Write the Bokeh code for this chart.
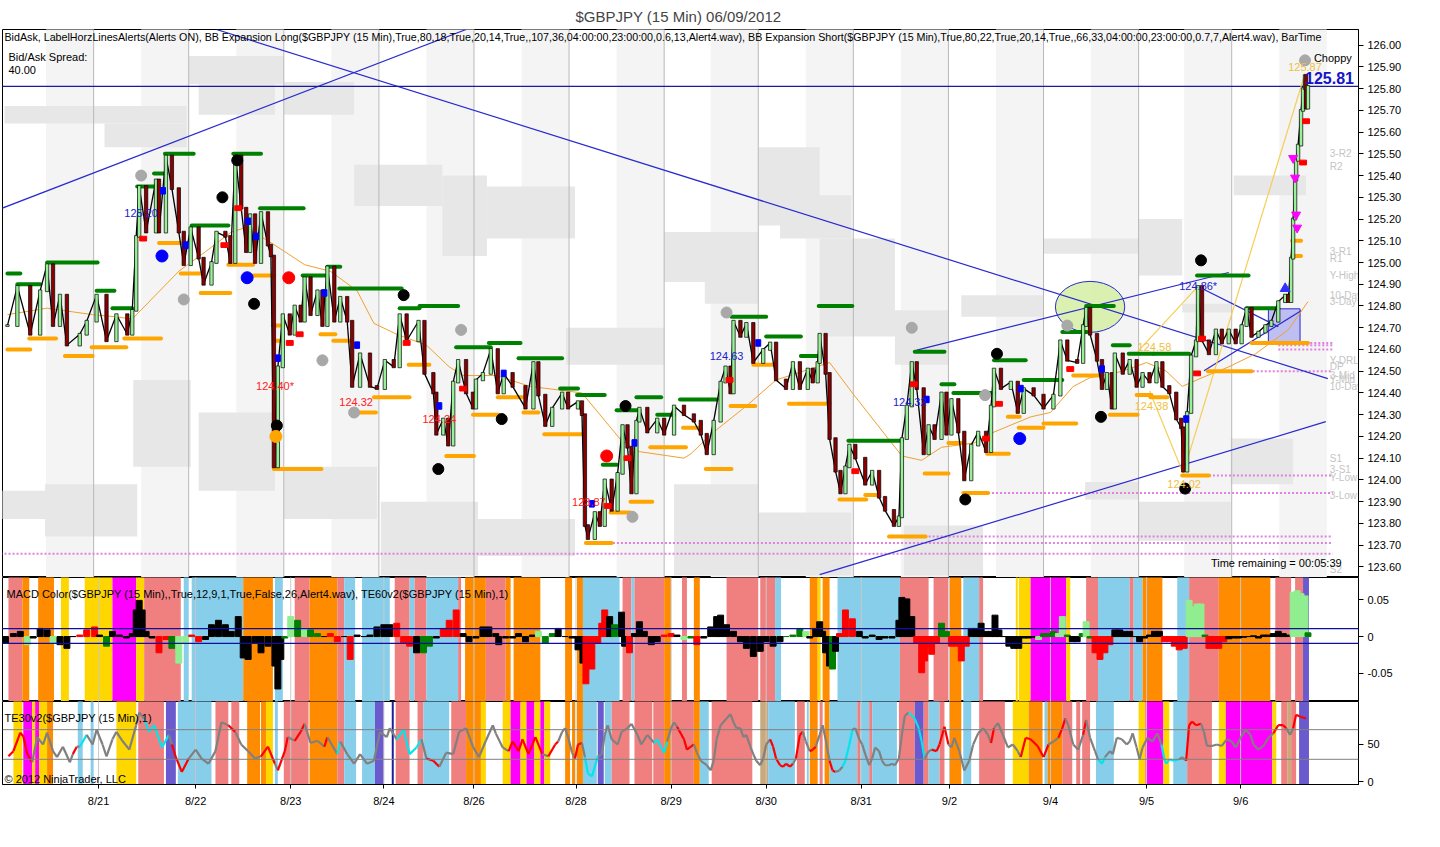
from bokeh.plotting import figure
from bokeh.models import Range1d, FixedTicker, PrintfTickFormatter, Label, Span
from bokeh.layouts import column
from bokeh.core.properties import value
from bokeh.embed import file_html
from bokeh.resources import INLINE

FONT = "Liberation Sans"

# ---------------- data: x axis (bar index of 15-min bars) ----------------
date_ticks = [99, 197, 293, 387, 478, 581, 677, 773, 869, 958, 1060, 1157, 1252]
date_labels = ["8/21", "8/22", "8/23", "8/24", "8/26", "8/28", "8/29", "8/30", "8/31", "9/2", "9/4", "9/5", "9/6"]
grid_x = [94, 190, 286, 382, 478, 574, 670, 765, 861, 957, 1053, 1149, 1243]
stripe_x0 = [46, 142, 238, 334, 430, 526, 622, 717, 813, 909, 1005, 1101, 1195, 1291]
stripe_x1 = [94, 190, 286, 382, 478, 574, 670, 765, 861, 957, 1053, 1149, 1243, 1339]
price_ticks = [123.6, 123.7, 123.8, 123.9, 124.0, 124.1, 124.2, 124.3, 124.4, 124.5, 124.6, 124.7,
               124.8, 124.9, 125.0, 125.1, 125.2, 125.3, 125.4, 125.5, 125.6, 125.7, 125.8, 125.9, 126.0]

# ---------------- data: price path ----------------
bar_x = [7, 17, 30, 40, 47, 53, 60, 67, 80, 87,
         97, 107, 117, 128, 133, 137, 140, 147, 157, 160,
         167, 173, 180, 185, 192, 200, 205, 213, 218, 227,
         232, 237, 243, 248, 252, 257, 263, 270, 273, 276,
         280, 285, 292, 297, 303, 307, 313, 320, 325, 330,
         337, 343, 350, 355, 363, 373, 380, 388, 397, 403,
         410, 422, 428, 437, 440, 447, 452, 457, 462, 470,
         477, 480, 487, 495, 502, 508, 517, 530, 538, 543,
         550, 557, 567, 573, 583, 587, 590, 593, 600, 605,
         610, 617, 623, 628, 633, 637, 642, 645, 653, 663,
         670, 680, 690, 700, 707, 713, 720, 727, 732, 737,
         740, 747, 753, 760, 770, 777, 783, 793, 800, 807,
         815, 820, 825, 827, 833, 837, 843, 848, 853, 857,
         863, 873, 880, 887, 893, 902, 907, 910, 915, 920,
         925, 932, 937, 943, 950, 955, 960, 967, 973, 980,
         987, 995, 1000, 1003, 1010, 1020, 1027, 1033, 1043, 1053,
         1063, 1070, 1077, 1087, 1093, 1096, 1100, 1107, 1112, 1117,
         1122, 1125, 1133, 1140, 1147, 1153, 1160, 1167, 1173, 1180,
         1187, 1192, 1194, 1198, 1202, 1207, 1209, 1213, 1220, 1227,
         1233, 1240, 1247, 1253, 1258, 1263, 1270, 1277, 1283, 1290,
         1297, 1300, 1303, 1305, 1307, 1308, 1310, 1313, 1315, 1317,
         1318, 1320]
bar_close = [124.71, 124.89, 124.67, 124.87, 124.99, 124.71, 124.85, 124.62, 124.67, 124.73,
             124.85, 124.64, 124.76, 124.67, 124.78, 125.12, 125.35, 125.14, 125.38, 125.14,
             125.49, 125.34, 125.14, 124.99, 125.16, 125.02, 124.90, 125.00, 125.14, 125.12,
             125.00, 125.49, 125.25, 125.05, 125.22, 125.00, 125.23, 125.08, 125.03, 124.06,
             124.52, 124.76, 124.67, 124.80, 124.73, 124.93, 124.76, 124.87, 124.71, 124.98,
             124.73, 124.84, 124.73, 124.43, 124.58, 124.43, 124.42, 124.55, 124.52, 124.76,
             124.64, 124.73, 124.49, 124.40, 124.21, 124.28, 124.16, 124.45, 124.55, 124.40,
             124.33, 124.46, 124.49, 124.60, 124.40, 124.49, 124.43, 124.33, 124.54, 124.39,
             124.25, 124.33, 124.40, 124.33, 124.36, 124.30, 123.79, 123.73, 123.85, 123.79,
             124.00, 123.86, 124.03, 124.25, 124.15, 123.94, 124.27, 124.33, 124.22, 124.28,
             124.21, 124.34, 124.30, 124.27, 124.21, 124.12, 124.27, 124.45, 124.52, 124.40,
             124.73, 124.66, 124.72, 124.54, 124.60, 124.63, 124.46, 124.42, 124.54, 124.42,
             124.51, 124.45, 124.54, 124.67, 124.49, 124.19, 124.04, 123.94, 124.06, 124.16,
             124.10, 123.98, 124.04, 123.92, 123.86, 123.79, 123.83, 124.19, 124.34, 124.54,
             124.42, 124.12, 124.25, 124.19, 124.40, 124.21, 124.37, 124.22, 124.00, 124.16,
             124.22, 124.13, 124.34, 124.51, 124.42, 124.45, 124.31, 124.42, 124.39, 124.33,
             124.39, 124.64, 124.55, 124.54, 124.71, 124.79, 124.67, 124.55, 124.42, 124.49,
             124.33, 124.58, 124.49, 124.55, 124.43, 124.49, 124.45, 124.54, 124.43, 124.40,
             124.28, 124.24, 124.04, 124.31, 124.57, 124.64, 124.89, 124.64, 124.58, 124.69,
             124.63, 124.69, 124.63, 124.71, 124.79, 124.66, 124.68, 124.71, 124.73, 124.82,
             124.85, 124.82, 125.02, 125.20, 125.38, 125.47, 125.54, 125.70, 125.80, 125.86,
             125.71, 125.81]

# moving average
ma_x = [7, 47, 93, 117, 133, 180, 207, 233, 247, 270, 287, 307, 333, 360, 377, 400, 430, 453, 467, 500,
        535, 587, 627, 645, 690, 697, 720, 753, 783, 797, 837, 860, 910, 930, 950, 983, 1003, 1040, 1060, 1083,
        1100, 1133, 1157, 1177, 1193, 1213, 1240, 1267, 1300, 1320]
ma_p = [124.76, 124.79, 124.76, 124.75, 124.74, 124.96, 125.05, 125.14, 125.16, 125.10, 125.05, 124.99, 124.96,
        124.87, 124.72, 124.67, 124.62, 124.52, 124.48, 124.48, 124.43, 124.40, 124.18, 124.13, 124.10, 124.12,
        124.22, 124.34, 124.46, 124.48, 124.54, 124.40, 124.11, 124.09, 124.15, 124.17, 124.22, 124.29, 124.31,
        124.43, 124.47, 124.50, 124.54, 124.50, 124.43, 124.47, 124.52, 124.58, 124.69, 124.82]

# resistance (green) and support (orange) markers
res_x0 = [7, 17, 47, 97, 113, 138, 155, 166, 193, 235, 262, 305, 330, 342, 403, 423, 460, 493, 523, 565,
          582, 608, 622, 642, 663, 686, 738, 773, 808, 826, 856, 923, 950, 962, 1003, 1033, 1072, 1096, 1123, 1139,
          1164, 1208, 1258]
res_x1 = [20, 40, 98, 115, 133, 157, 167, 195, 230, 263, 306, 328, 343, 405, 423, 462, 495, 525, 567, 583,
          610, 622, 645, 667, 680, 723, 773, 808, 826, 860, 910, 953, 963, 1003, 1035, 1072, 1097, 1124, 1140, 1164,
          1200, 1260, 1290]
res_p = [124.95, 124.90, 125.00, 124.87, 124.79, 125.35, 125.41, 125.50, 125.17, 125.50, 125.25, 124.94, 124.98,
         124.88, 124.79, 124.80, 124.61, 124.63, 124.56, 124.42, 124.39, 124.07, 124.32, 124.38, 124.30, 124.37,
         124.75, 124.66, 124.57, 124.80, 124.18, 124.59, 124.44, 124.40, 124.55, 124.46, 124.68, 124.80, 124.62,
         124.58, 124.58, 124.94, 124.79]
sup_x0 = [7, 29, 65, 92, 125, 160, 182, 202, 230, 255, 275, 276, 276, 323, 336, 362, 377, 412, 450, 477,
          502, 528, 549, 591, 616, 636, 656, 689, 712, 737, 760, 796, 847, 873, 897, 933, 957, 972, 996, 1017,
          1028, 1053, 1083, 1120, 1147, 1161, 1193, 1219, 1263, 1304, 1304]
sup_x1 = [30, 56, 93, 127, 162, 182, 203, 232, 255, 276, 285, 284, 324, 338, 353, 379, 413, 433, 478, 503,
          530, 543, 589, 617, 636, 658, 692, 706, 738, 762, 781, 837, 874, 887, 934, 957, 972, 997, 1018, 1029,
          1053, 1086, 1108, 1148, 1162, 1178, 1220, 1263, 1320, 1313, 1313]
sup_p = [124.60, 124.65, 124.57, 124.61, 124.65, 125.09, 124.95, 124.86, 124.99, 124.94, 124.71, 124.64, 124.05,
         124.67, 124.64, 124.31, 124.38, 124.53, 124.11, 124.30, 124.38, 124.31, 124.21, 123.71, 123.85, 123.90,
         124.15, 124.24, 124.05, 124.34, 124.53, 124.35, 123.91, 123.93, 123.74, 124.03, 124.17, 123.94, 124.12,
         124.29, 124.24, 124.26, 124.48, 124.30, 124.39, 124.38, 124.02, 124.50, 124.63, 125.10, 125.03]

# signal dots
black_x = [224, 239, 256, 279, 407, 442, 506, 631, 974, 1006, 1111, 1196, 1212]
black_p = [125.30, 125.47, 124.81, 124.25, 124.85, 124.05, 124.28, 124.34, 123.91, 124.58, 124.29, 123.96, 125.01]
blue_x = [163, 249, 1029]
blue_p = [125.03, 124.93, 124.19]
red_x = [291, 612]
red_p = [124.93, 124.11]
gray_x = [142, 185, 325, 357, 465, 638, 733, 920, 994, 1077, 1317]
gray_p = [125.40, 124.83, 124.55, 124.31, 124.69, 123.83, 124.77, 124.70, 124.39, 124.71, 125.93]
gold_dot_x = [278]
gold_dot_p = [124.20]

# small bar markers
rmark_x = [144, 226, 240, 292, 302, 410, 467, 613, 633, 736, 863, 922, 995, 1008, 1080, 1208, 1213, 1318, 1315]
rmark_p = [125.11, 125.08, 125.25, 124.63, 124.67, 124.63, 124.42, 123.88, 124.10, 124.46, 124.04, 124.44,
           124.19, 124.35, 124.51, 124.49, 124.65, 125.65, 125.46]
bmark_x = [164, 187, 250, 258, 280, 327, 360, 443, 508, 597, 640, 765, 935, 1030, 1112, 1197]
bmark_p = [125.33, 125.08, 125.19, 125.12, 124.56, 124.86, 124.62, 124.34, 124.49, 123.89, 124.17, 124.63,
           124.37, 124.42, 124.51, 124.28]
arrow_x = [1305, 1307, 1308, 1309, 1297]
arrow_p = [125.48, 125.39, 125.22, 125.16, 124.88]

# gray cloud blocks
cloud_x0 = [4, 105, 190, 200, 286, 357, 446, 491, 571, 670, 0, 45, 134, 200, 286, 384, 482,
            680, 711, 765, 787, 827, 903, 970, 1053, 1149, 1193, 1245, 680, 765, 912, 1095, 1149, 1242]
cloud_x1 = [188, 188, 286, 277, 357, 446, 491, 580, 670, 700, 89, 138, 192, 277, 380, 482, 580,
            765, 765, 827, 859, 903, 957, 1053, 1149, 1193, 1242, 1318, 765, 859, 992, 1149, 1242, 1305]
cloud_top = [125.72, 125.64, 125.95, 125.82, 125.83, 125.45, 125.40, 125.35, 124.70, 125.14, 123.95, 123.98,
             124.46, 124.31, 124.06, 123.90, 123.82, 125.14, 124.91, 125.53, 125.31, 125.11, 124.78, 124.85,
             125.11, 125.20, 124.81, 125.40, 123.98, 123.85, 123.79, 123.99, 123.90, 124.19]
cloud_bot = [125.64, 125.53, 125.82, 125.68, 125.68, 125.26, 125.03, 125.11, 124.53, 124.91, 123.82, 123.74,
             124.06, 123.95, 123.82, 123.56, 123.65, 124.91, 124.81, 125.17, 125.11, 124.66, 124.53, 124.75,
             125.04, 124.94, 124.77, 125.31, 123.56, 123.56, 123.56, 123.91, 123.72, 123.98]

# trend lines
trend_x0 = [0, 218, 925, 827, 1209, 1215]
trend_x1 = [470, 1340, 1240, 1338, 1290, 1313]
trend_p0 = [125.247, 126.072, 124.597, 123.564, 124.890, 124.502]
trend_p1 = [126.072, 124.466, 124.954, 124.268, 124.705, 124.778]
last_price = 125.81
ask_price = 125.65
zig_x0 = [1148, 1160, 1194]
zig_x1 = [1209, 1194, 1317]
zig_p0 = [124.59, 124.41, 124.03]
zig_p1 = [124.89, 124.03, 125.87]

# dotted pivot lines
dot_x0 = [0, 590, 933, 997, 1220, 1240, 1290, 1290, 1290]
dot_p = [123.66, 123.71, 123.74, 123.94, 124.02, 124.50, 124.63, 124.62, 124.60]
dot_x1 = 1345

# price labels
plab_text = ["125.20", "124.40*", "124.32", "124.24", "123.87", "124.63", "124.32", "124.86*",
             "124.58", "124.38", "124.02", "125.87"]
plab_x = [125, 258, 342, 426, 577, 716, 901, 1190, 1148, 1145, 1178, 1300]
plab_p = [125.23, 124.43, 124.36, 124.28, 123.90, 124.57, 124.36, 124.89, 124.61, 124.34, 123.98, 125.90]
plab_c = ["b", "r", "r", "r", "r", "b", "b", "b", "y", "y", "y", "y"]
pivot_text = ["3-R2", "R2", "3-R1", "R1", "Y-High", "10-Day", "3-Day", "Y-DRL", "DP", "3-Mid", "Y-Mid",
              "10-Day", "S1", "3-S1", "Y-Low", "3-Low", "S2"]
pivot_p = [125.50, 125.44, 125.05, 125.02, 124.94, 124.85, 124.82, 124.55, 124.52, 124.48, 124.46, 124.43,
           124.10, 124.05, 124.01, 123.93, 123.59]

# ---------------- data: MACD panel ----------------
macd_x = [5, 13, 20, 27, 33, 40, 47, 53, 60, 67, 73, 80, 87, 95, 100, 107, 113, 120, 127, 133,
          137, 140, 143, 147, 153, 160, 167, 173, 180, 187, 193, 200, 207, 213, 220, 227, 233, 240, 245, 250,
          257, 263, 270, 277, 280, 283, 287, 293, 300, 307, 313, 320, 327, 333, 340, 347, 353, 360, 367, 373,
          380, 387, 393, 400, 407, 413, 420, 427, 433, 440, 447, 453, 460, 467, 473, 480, 487, 493, 500,
          503, 510, 517, 523, 530, 537, 543, 550, 557, 563, 570, 577, 583, 588, 591, 597, 603, 607, 610, 615,
          620, 627, 630, 635, 640, 645, 650, 657, 663, 670, 677, 683, 690, 697, 703, 710, 717, 723, 727, 733,
          740, 747, 753, 760, 767, 773, 780, 787, 793, 800, 807, 813, 817, 823, 827, 830, 833, 837, 840, 843,
          847, 853, 860, 867, 873, 880, 887, 893, 900, 907, 910, 915, 920, 925, 930, 933, 937,
          940, 945, 950, 955, 960, 965, 970, 975, 980, 985, 990, 995, 1000, 1004, 1008, 1013, 1018, 1023, 1028, 1033,
          1038, 1043, 1048, 1053, 1058, 1063, 1068, 1072, 1077, 1082, 1087, 1092, 1096, 1100, 1105, 1110, 1115, 1120,
          1125, 1130, 1135, 1140, 1145, 1150, 1155, 1160, 1165, 1170, 1175, 1180, 1185, 1190, 1195, 1200, 1204, 1208,
          1212, 1216, 1220, 1225, 1230, 1235, 1240, 1245, 1250, 1255, 1260, 1265, 1270, 1275, 1280, 1285, 1290,
          1295, 1300, 1305, 1309, 1313, 1317, 1320]
macd_v = [-0.009, 0.004, 0.007, -0.011, -0.002, 0.011, 0.009, -0.009, -0.011, -0.016,
          0.0, 0.002, 0.009, 0.013, 0.002, -0.013, 0.007, 0.002, -0.002, 0.004,
          0.036, 0.049, 0.036, 0.007, -0.002, -0.022, -0.004, -0.016, -0.036, -0.009,
          0.002, -0.007, -0.004, 0.016, 0.022, 0.016, 0.007, 0.027, -0.029, -0.031,
          -0.009, -0.022, -0.013, -0.040, -0.071, -0.031, -0.002, 0.027, 0.022, 0.011,
          0.009, 0.004, 0.0, 0.004, -0.007, 0.0, -0.031, 0.002, 0.0, 0.002,
          0.013, 0.016, 0.016, 0.018, -0.009, -0.013, -0.022, -0.022, -0.013, -0.002,
          0.011, 0.022, 0.036, 0.004, -0.007, -0.002, 0.013, 0.013, 0.004,
          -0.011, -0.002, -0.002, 0.004, -0.007, 0.002, 0.007, -0.009, 0.004, 0.011,
          0.0, -0.002, -0.018, -0.036, -0.064, -0.044, -0.009, 0.018, 0.036, 0.027,
          0.016, 0.033, -0.013, -0.022, 0.004, 0.020, 0.007, -0.011, -0.007, 0.002,
          0.004, 0.002, -0.004, -0.002, -0.011, -0.002, 0.013, 0.027, 0.029, 0.016,
          0.007, -0.007, -0.016, -0.027, -0.020, -0.007, -0.013, -0.007, 0.0, 0.002,
          0.011, 0.007, -0.002, 0.011, 0.020, 0.007, -0.022, -0.040, -0.044, -0.020,
          0.004, 0.036, 0.024, 0.007, -0.002, 0.002, -0.004, -0.002, -0.002, 0.022,
          0.053, 0.051, 0.027, -0.009, -0.049, -0.033, -0.013,
          -0.024, -0.009, 0.018, 0.007, -0.013, -0.013, -0.033, -0.013, 0.011, 0.011,
          0.018, 0.007, 0.007, 0.029, 0.009, 0.0, -0.013, -0.016, -0.016, -0.002,
          -0.002, -0.001, -0.004, 0.004, 0.004, 0.007, 0.004, 0.027, 0.002, -0.007,
          -0.007, 0.004, 0.020, -0.002, -0.022, -0.031, -0.022, -0.011, 0.009, 0.009,
          0.007, 0.007, 0.0, -0.007, -0.002, 0.002, 0.007, 0.007, -0.007, -0.007,
          -0.013, -0.018, -0.016, 0.049, 0.040, 0.044, 0.044, 0.002, -0.016, -0.016,
          -0.016, -0.007, -0.003, -0.002, -0.002, -0.001, 0.0, 0.001, -0.002, 0.002,
          0.002, 0.004, 0.007, 0.004, 0.002, 0.060, 0.062, 0.058, 0.055, 0.005]
macd_c = ("kkklkkklkk" "krrrkgkkkk" "kkkkkrrgll" "rrkkkkkkkk" "kkkkkkglgl" "ggkrrkrkkk" "kkkrrrkggk" "rrrkkkkkk"
          "kkkkkklggk" "kkkkrrrrrk" "gkkrkkkkkr" "rklgrkkkkk" "kkkkkkkkgg" "glkkkkkkgk" "rrrkkkkkkk" "kkkrrrr"
          "rrggrrrrkk" "kkkkkkkkkk" "kklgggllgk" "kglgrrrrkk" "kkkkkkkkrr" "rrrllllgrr" "rrkkkkkkkk" "kkkkkllllg")
macd_ticks = [-0.05, 0, 0.05]
macd_band_x0 = [8, 22, 38, 61, 85, 113, 137, 145, 185, 193, 245, 277, 297, 312, 340, 347, 365, 398, 413, 418,
                430, 462, 469, 490, 510, 518, 570, 582, 588, 628, 637, 640, 670, 688, 700, 733, 767, 782, 817, 825,
                830, 845, 908, 942, 958, 972, 988, 1025, 1028, 1040, 1076, 1096, 1108, 1140, 1144, 1153, 1188, 1200,
                1230, 1287, 1307, 1315]
macd_band_x1 = [22, 29, 54, 69, 113, 137, 145, 182, 190, 245, 275, 285, 312, 340, 347, 358, 393, 413, 418, 430,
                462, 465, 490, 510, 515, 545, 577, 588, 625, 637, 640, 670, 677, 693, 706, 765, 782, 788, 825, 828,
                837, 908, 937, 957, 970, 988, 992, 1027, 1040, 1076, 1080, 1108, 1140, 1144, 1153, 1173, 1200, 1230,
                1282, 1303, 1315, 1321]
macd_band_c = "SOOGGMGSBB" "OBSOSBBSBS" "BSOSOOOOBS" "BSOSOSSBOG" "OBSSOBSGGM" "GSBSBOBSOS" "SP"

# ---------------- data: TE30 panel ----------------
te_x = [8, 13, 20, 23, 27, 32, 37, 43, 47, 53, 57, 63, 70, 73, 77, 80, 87, 93, 97, 103,
        107, 113, 117, 123, 130, 137, 140, 145, 150, 155, 163, 170, 173, 177, 183, 190, 197, 203, 210, 217,
        223, 230, 237, 243, 250, 257, 263, 270, 277, 280, 287, 290, 297, 303, 307, 313, 320, 327, 330, 340,
        343, 350, 357, 363, 370, 377, 383, 390, 393, 400, 407, 413, 420, 425, 430, 437, 443, 450, 457, 463,
        470, 477, 483, 490, 497, 500,
        507, 513, 517, 523, 527, 533, 540, 547, 553, 560, 563, 567, 570, 573, 577, 580, 583, 587, 590, 593,
        597, 600, 603, 607, 610, 613, 617, 623, 627, 633, 637, 643, 647, 653, 660, 663, 667, 670, 673, 677,
        680, 683, 690, 693, 697, 700, 703, 707, 713, 717, 720, 723, 727, 733, 737, 740, 743, 747, 750, 753,
        757, 760, 763, 767, 770, 773, 777, 780, 783, 787, 790, 793, 797, 800, 803, 807, 810, 813, 817, 820,
        823, 827, 830, 833, 837, 840, 843, 847, 850, 853, 857, 860, 863, 867, 870, 873, 877, 880, 883, 887,
        890, 893, 897, 900, 903, 907, 910, 913, 917, 920, 923, 927, 930, 933, 937,
        940, 945, 948, 953, 957, 960, 963, 968, 973, 978, 982, 987, 992, 997, 1000, 1003, 1007, 1012, 1017, 1022,
        1027, 1030, 1035, 1040, 1047, 1053, 1058, 1063, 1068, 1072, 1075, 1078, 1083, 1088, 1093, 1096, 1100,
        1105, 1108, 1112, 1115, 1120, 1123, 1127, 1132, 1137, 1140, 1143, 1147, 1150, 1153, 1158, 1163, 1168,
        1172, 1175, 1177, 1180, 1185, 1190, 1193, 1197, 1200, 1203, 1207, 1212, 1215, 1218, 1223, 1228, 1233,
        1238, 1243, 1247, 1252, 1257, 1262, 1265, 1270, 1275, 1280, 1285, 1290, 1295, 1298, 1302, 1305, 1308,
        1313, 1318]
te_v = [34, 41, 66, 61, 37, 26, 60, 50, 66, 41, 33, 47, 26, 37, 47, 47, 63, 50, 70, 50,
        34, 57, 67, 55, 43, 76, 93, 85, 67, 76, 46, 63, 50, 33, 13, 31, 43, 31, 24, 41,
        80, 76, 67, 50, 41, 31, 34, 47, 24, 15, 41, 60, 55, 67, 78, 52, 55, 47, 60, 37,
        54, 37, 24, 37, 24, 28, 67, 60, 72, 57, 70, 37, 46, 57, 31, 28, 20, 39, 37, 67,
        72, 47, 33, 55, 76, 65,
        46, 41, 54, 41, 57, 37, 60, 37, 34, 50, 54, 67, 72, 60, 39, 31, 50, 52, 33, 11,
        7, 20, 34, 37, 63, 76, 57, 50, 67, 72, 78, 63, 50, 63, 52, 57, 46, 39, 54, 72,
        80, 74, 57, 43, 47, 50, 39, 28, 22, 15, 28, 57, 76, 85, 91, 80, 72, 72, 60, 63,
        47, 37, 28, 22, 31, 50, 57, 47, 31, 22, 20, 24, 20, 24, 31, 63, 67, 54, 41, 43,
        47, 63, 76, 57, 28, 15, 13, 15, 20, 28, 50, 70, 72, 57, 50, 37, 22, 31, 46, 41,
        28, 22, 22, 24, 22, 31, 63, 89, 93, 89, 85, 72, 54, 31, 41,
        43, 41, 50, 74, 50, 46, 59, 41, 15, 28, 50, 65, 72, 63, 52, 72, 79, 63, 46, 50,
        41, 33, 59, 57, 48, 33, 50, 54, 59, 72, 85, 76, 50, 43, 63, 83, 59, 41, 30, 24,
        33, 41, 37, 59, 57, 50, 54, 65, 46, 30, 46, 59, 54, 65, 50, 30, 24, 30, 28, 30,
        33, 28, 76, 81, 76, 78, 67, 48, 48, 50, 48, 57, 54, 46, 59, 70, 63, 50, 43, 48,
        59, 65, 76, 76, 72, 63, 72, 90, 87, 85]
te_c = ("rrrrrrkkkk" "kkkkrkckkk" "kkkkkkkkcc" "cckrrrkkkk" "kkrkkkkrrk" "rrkrrkkkrk" "ckkkkkkkkk" "cccckrrkkk"
        "kkkkkk"
        "kkrrrrrrkr" "rkkkkkrrkc" "ccckkkkkkk" "kkkkkcccck" "kkrrrrkkkk" "kkkkkkkkkk" "kkkkkkkrrr" "rrrrkrrkkr"
        "rkkkkrrkkc" "cckkkkkkkk" "kkkkkkkkkc" "cccck"
        "krrrrkkkkk" "kkkkkrkkkk" "kkrrrrrkkr" "rkkkkrkkkc" "ckkkkkkkkk" "kkkkkccccc" "kkrrrrkkkk" "kkkkkkkkkk"
        "kkrrrkkrrr")
te_ticks = [0, 50]
te_levels = [70, 30]
te_band_x0 = [13, 23, 32, 35, 39, 47, 78, 91, 117, 139, 167, 179, 217, 233, 249, 263, 268, 277, 286, 312,
              340, 347, 365, 378, 395, 399, 421, 427, 455, 470, 485, 507, 515, 525, 531, 539, 545, 549, 570, 577,
              582, 588, 603, 610, 617, 640, 659, 670, 677, 700, 706, 718, 767, 775, 804, 814, 817, 827, 832, 837,
              865, 868, 877, 880, 907, 923, 932, 937, 948, 958, 972, 988, 1022, 1038, 1054, 1057, 1072, 1086, 1092,
              1106, 1149, 1156, 1174, 1184, 1198, 1230, 1237, 1284, 1293, 1299, 1303, 1311]
te_band_x1 = [22, 32, 35, 39, 47, 53, 83, 94, 137, 165, 177, 213, 230, 241, 262, 268, 275, 280, 311, 340,
              347, 359, 378, 387, 397, 413, 427, 453, 470, 485, 490, 515, 525, 531, 539, 545, 549, 555, 575, 580,
              588, 602, 609, 617, 635, 658, 670, 677, 700, 706, 715, 759, 775, 802, 812, 816, 825, 830, 837, 865,
              868, 877, 880, 905, 923, 932, 937, 948, 953, 970, 980, 1014, 1038, 1052, 1057, 1072, 1082, 1090, 1100,
              1124, 1156, 1174, 1180, 1198, 1223, 1237, 1284, 1288, 1299, 1303, 1308, 1321]
te_band_c = ("GMGMGOBBGS" "PBSSOOGBSO" "SBBPDSSBSO" "GGMGMGMGOO" "OBPBSSSOSO" "BSTBSBOSOB" "SBSBSPSBSO"
             "BSGOBOSSSB" "GMGBSGMGST" "SP")

# ---------------- styles ----------------
BAND_COLORS = {"S": "#f08080", "O": "#ff8c00", "G": "#ffd700", "M": "#ff00ff", "B": "#87ceeb",
               "P": "#6a5acd", "T": "#c8aa7d", "D": "#1e1e9a"}
MACD_COLORS = {"k": "black", "r": "#ff0000", "g": "#008000", "l": "#90ee90"}
TE_COLORS = {"k": "#808080", "r": "#ff0000", "c": "#00e5ee"}
LABEL_COLORS = {"b": "#2020d0", "r": "#ff2020", "y": "#f0c040"}

W = 1424
XR = Range1d(2, 1371)


def base_fig(height, y_range, **kw):
    p = figure(width=W, height=height, x_range=XR, y_range=y_range, output_backend="svg",
               toolbar_location=None, y_axis_location="right", min_border_left=2, min_border_right=66,
               min_border_top=0, **kw)
    p.grid.visible = False
    p.outline_line_color = "black"
    p.outline_line_width = 1
    p.background_fill_color = "white"
    ax = p.yaxis[0]
    ax.axis_line_color = "black"
    ax.major_tick_out = 5
    ax.major_tick_in = 0
    ax.minor_tick_line_color = None
    ax.major_label_text_font = FONT
    ax.major_label_text_font_size = "11px"
    ax.major_label_text_color = "black"
    ax.major_label_standoff = 4
    return p


def add_text(p, x, y, txt, color="black", size="11px", style="normal", font=FONT):
    p.add_layout(Label(x=x, y=y, text=txt, text_color=color, text_font_size=size, text_font_style=style,
                       text_font=font, text_baseline="middle"))


# ================= main price panel =================
p1 = base_fig(577, Range1d(123.551, 126.072), x_axis_location=None, min_border_bottom=0,
              title="$GBPJPY (15 Min)  06/09/2012")
p1.title.align = "center"
p1.title.text_font = FONT
p1.title.text_font_size = "15px"
p1.title.text_font_style = "normal"
p1.yaxis.ticker = FixedTicker(ticks=price_ticks)
p1.yaxis.formatter = PrintfTickFormatter(format="%.2f")

p1.quad(left=stripe_x0, right=stripe_x1, bottom=120, top=130, color="#f4f4f4", line_color=None)
p1.quad(left=cloud_x0, right=cloud_x1, bottom=cloud_bot, top=cloud_top, color="#e7e7e7", line_color=None)
p1.segment(x0=grid_x, x1=grid_x, y0=120, y1=130, line_color="#b8b8b8", line_width=1)

# dotted pivot lines
p1.segment(x0=dot_x0, x1=[dot_x1] * len(dot_x0), y0=dot_p, y1=dot_p, line_color="#e080e0",
           line_width=2, line_dash="2 2")

# trend lines, ellipse, box
p1.ellipse(x=[1100], y=[124.796], width=[70], height=[0.235], fill_color="#d6f0a8", fill_alpha=0.9,
           line_color="#2a2ad0", line_width=1)
p1.quad(left=[1280], right=[1312], bottom=[124.633], top=[124.787], fill_color="#b8b8f0", fill_alpha=0.9,
        line_color="#2a2ad0")
p1.segment(x0=trend_x0, x1=trend_x1, y0=trend_p0, y1=trend_p1, line_color="#2a2ad0", line_width=1.2)
p1.segment(x0=[0], x1=[1371], y0=[last_price], y1=[last_price], line_color="#1a1aa0", line_width=1.2)
p1.segment(x0=zig_x0, x1=zig_x1, y0=zig_p0, y1=zig_p1, line_color="#f5cd55", line_width=1.2)

# moving average
p1.line(ma_x, ma_p, line_color="#f0a030", line_width=1)

# support / resistance markers
p1.segment(x0=res_x0, x1=res_x1, y0=res_p, y1=res_p, line_color="#008000", line_width=4, line_cap="round")
p1.segment(x0=sup_x0, x1=sup_x1, y0=sup_p, y1=sup_p, line_color="#ffa500", line_width=4, line_cap="round")

# candles
opens = [bar_close[0]] + bar_close[:-1]
tops = [max(o, c) + 0.004 for o, c in zip(opens, bar_close)]
bots = [min(o, c) - 0.004 for o, c in zip(opens, bar_close)]
fills = ["#98f098" if c >= o else "#8b0000" for o, c in zip(opens, bar_close)]
prev_x = [bar_x[0]] + bar_x[:-1]
p1.segment(x0=prev_x, x1=bar_x, y0=opens, y1=bar_close, line_color="black", line_width=1.3)
p1.vbar(x=bar_x, width=3.4, top=tops, bottom=bots, fill_color=fills, line_color="black", line_width=0.7)

# small marks
p1.rect(x=rmark_x, y=rmark_p, width=7, height=0.022, color="#ff0000")
p1.rect(x=bmark_x, y=bmark_p, width=5, height=0.03, color="#0000ff")
p1.scatter(arrow_x[:4], arrow_p[:4], marker="inverted_triangle", size=9, color="#ff00ff")
p1.scatter(arrow_x[4:], arrow_p[4:], marker="triangle", size=10, color="#3030ff")

# dots
p1.scatter(black_x, black_p, size=11, color="black")
p1.scatter(blue_x, blue_p, size=12, color="#0000ff")
p1.scatter(red_x, red_p, size=12, color="#ff0000")
p1.scatter(gray_x, gray_p, size=11, color="#a8a8a8")
p1.scatter(gold_dot_x, gold_dot_p, size=12, color="#ffa500")

# labels
p1.text(x=plab_x, y=plab_p, text=plab_text, text_color=[LABEL_COLORS[c] for c in plab_c],
        text_font=value(FONT), text_font_size="11px", text_baseline="middle")
p1.text(x=[1342] * len(pivot_text), y=pivot_p, text=pivot_text, text_color="#c4c4c4",
        text_font=value(FONT), text_font_size="10px", text_baseline="middle")

add_text(p1, 4, 126.036, "BidAsk, LabelHorzLinesAlerts(Alerts ON),  BB Expansion Long($GBPJPY (15 Min),True,80,18,"
         "True,20,14,True,,107,36,04:00:00,23:00:00,0.6,13,Alert4.wav),  BB Expansion Short($GBPJPY (15 Min),True,"
         "80,22,True,20,14,True,,66,33,04:00:00,23:00:00,0.7,7,Alert4.wav), BarTime", size="10.7px")
add_text(p1, 8, 125.946, "Bid/Ask Spread:")
add_text(p1, 8, 125.887, "40.00")
add_text(p1, 1326, 125.94, "Choppy", size="11px")
add_text(p1, 1317, 125.85, "125.81", color="#1515c8", size="16px", style="bold")
add_text(p1, 1222, 123.618, "Time remaining = 00:05:39")
# price tags in the axis area (screen units)
for txt, sy, bg in [("125.81", 492, "black"), ("125.65", 459, "#e01010")]:
    p1.add_layout(Label(x=1363, x_units="screen", y=sy, y_units="screen", text=txt, text_color="white",
                        background_fill_color=bg, border_line_color=bg, text_font=FONT,
                        text_font_size="12px", text_baseline="middle"))

# ================= MACD panel =================
p2 = base_fig(124, Range1d(-0.088, 0.08), x_axis_location=None, min_border_bottom=0)
p2.yaxis.ticker = FixedTicker(ticks=macd_ticks)
p2.yaxis.major_label_overrides = {-0.05: "-0.05", 0: "0", 0.05: "0.05"}
p2.quad(left=macd_band_x0, right=macd_band_x1, bottom=-1, top=1,
        color=[BAND_COLORS[c] for c in macd_band_c], line_color=None)
p2.segment(x0=date_ticks, x1=date_ticks, y0=-1, y1=1, line_color="#c8c8c8", line_width=1)
p2.vbar(x=macd_x, width=6, top=macd_v, bottom=0, color=[MACD_COLORS[c] for c in macd_c])
p2.add_layout(Span(location=0.0107, dimension="width", line_color="#1010a0", line_width=1.2))
p2.add_layout(Span(location=-0.0093, dimension="width", line_color="#1010a0", line_width=1.2))
add_text(p2, 6, 0.057, "MACD Color($GBPJPY (15 Min),,True,12,9,1,True,False,26,Alert4.wav), "
         "TE60v2($GBPJPY (15 Min),1)")

# ================= TE30 panel =================
p3 = base_fig(130, Range1d(-4, 108), min_border_bottom=47)
p3.yaxis.ticker = FixedTicker(ticks=te_ticks)
p3.quad(left=te_band_x0, right=te_band_x1, bottom=-10, top=120,
        color=[BAND_COLORS[c] for c in te_band_c], line_color=None)
p3.segment(x0=date_ticks, x1=date_ticks, y0=-10, y1=120, line_color="#c8c8c8", line_width=1)
for lv in te_levels:
    p3.add_layout(Span(location=lv, dimension="width", line_color="#808080", line_width=1))
p3.segment(x0=te_x[:-1], x1=te_x[1:], y0=te_v[:-1], y1=te_v[1:],
           line_color=[TE_COLORS[c] for c in te_c[1:]], line_width=2.2)
add_text(p3, 4, 85.5, "TE30v2($GBPJPY (15 Min),1)")
add_text(p3, 4, 4, "\u00a9 2012 NinjaTrader, LLC")
xa = p3.xaxis[0]
xa.ticker = FixedTicker(ticks=date_ticks)
xa.major_label_overrides = dict(zip(date_ticks, date_labels))
xa.major_label_text_font = FONT
xa.major_label_text_font_size = "11px"
xa.major_label_text_color = "black"
xa.axis_line_color = "black"
xa.major_tick_out = 4
xa.major_tick_in = 0
xa.minor_tick_line_color = None
xa.major_label_standoff = 6

layout = column(p1, p2, p3, spacing=0)
open("out.html", "w").write(file_html(layout, INLINE))
